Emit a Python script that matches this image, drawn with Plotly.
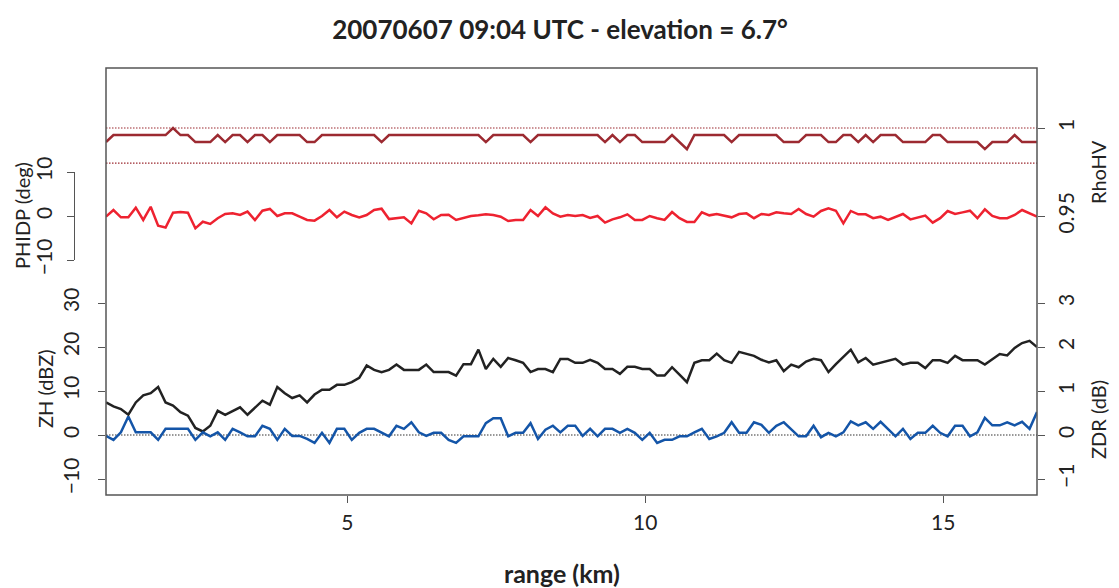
import plotly.graph_objects as go

# ---- data ----
range_start_km = 0.95
gate_km = 0.125

rhohv = [0.992, 0.996, 0.996, 0.996, 0.996, 0.996, 0.996, 0.996, 0.996, 1.000,
         0.996, 0.996, 0.992, 0.992, 0.992, 0.996, 0.992, 0.996, 0.996, 0.992,
         0.996, 0.996, 0.992, 0.996, 0.996, 0.996, 0.996, 0.992, 0.992, 0.996,
         0.996, 0.996, 0.996, 0.996, 0.996, 0.996, 0.996, 0.992, 0.996, 0.996,
         0.996, 0.996, 0.996, 0.996, 0.996, 0.996, 0.996, 0.996, 0.996, 0.996,
         0.996, 0.992, 0.996, 0.996, 0.996, 0.996, 0.996, 0.992, 0.996, 0.996,
         0.996, 0.996, 0.996, 0.996, 0.996, 0.996, 0.996, 0.992, 0.996, 0.992,
         0.996, 0.996, 0.992, 0.992, 0.992, 0.992, 0.996, 0.992, 0.988, 0.996,
         0.996, 0.996, 0.996, 0.996, 0.992, 0.996, 0.996, 0.996, 0.996, 0.996,
         0.996, 0.992, 0.992, 0.992, 0.996, 0.996, 0.996, 0.992, 0.992, 0.996,
         0.996, 0.992, 0.996, 0.992, 0.996, 0.996, 0.996, 0.992, 0.992, 0.992,
         0.992, 0.996, 0.996, 0.992, 0.992, 0.992, 0.992, 0.992, 0.988, 0.992,
         0.992, 0.992, 0.996, 0.992, 0.992, 0.992]

phidp = [-0.15, 1.36, -0.3, -0.3, 1.9, -0.9, 2.1, -2.2, -2.6, 0.76,
         0.9, 0.76, -2.8, -1.3, -1.8, -0.5, 0.45, 0.6, 0.23, 1.0,
         -0.9, 1.2, 1.6, 0.0, 0.6, 0.6, -0.15, -0.9, -1.06, 0.0,
         1.36, -0.3, 1.0, 0.23, -0.3, 0.23, 1.36, 1.67, -0.7, -0.5,
         -0.3, -1.67, 1.2, 0.6, -0.76, 0.23, 0.3, -0.9, -0.5, 0.0,
         0.15, 0.38, 0.23, -0.15, -1.14, -0.9, -0.9, 1.36, 0.0, 1.97,
         0.6, -0.15, 0.23, 0.0, 0.23, -0.45, 0.0, -1.5, -0.76, -0.3,
         0.38, -0.9, -0.9, 0.0, -0.5, -0.9, 0.9, -0.5, -1.36, -1.36,
         0.83, 0.15, 0.45, 0.15, -0.3, 0.45, 0.6, -0.5, 0.45, 0.23,
         0.83, 0.6, 0.45, 1.6, 0.45, -0.15, 1.14, 1.74, 1.2, -1.67,
         1.14, 0.38, 0.38, -0.5, -0.15, -0.9, -0.3, 0.45, -0.76, -0.3,
         0.08, -1.5, -0.5, 1.14, 0.45, 0.83, 1.2, -0.5, 1.5, 0.0,
         -0.5, -0.5, 0.23, 1.36, 0.6, -0.15]

zh = [7.4, 6.5, 5.9, 4.6, 7.4, 9.0, 9.5, 10.9, 7.4, 6.7,
      5.2, 4.4, 1.6, 0.8, 2.1, 5.5, 4.6, 5.4, 6.3, 4.6,
      6.1, 7.8, 6.9, 10.9, 9.5, 8.4, 9.0, 7.4, 9.2, 10.3,
      10.3, 11.4, 11.4, 12.0, 13.0, 15.8, 14.8, 14.3, 14.8, 16.0,
      14.8, 14.8, 14.8, 16.0, 14.3, 14.3, 14.3, 13.5, 16.1, 16.1,
      19.4, 15.0, 17.3, 15.5, 17.5, 17.0, 16.4, 14.3, 15.0, 15.0,
      14.3, 17.3, 17.3, 16.4, 16.4, 17.1, 16.4, 15.0, 15.0, 13.9,
      15.5, 15.5, 15.0, 15.0, 13.5, 13.5, 15.4, 13.7, 12.0, 16.4,
      17.0, 17.0, 18.5, 17.0, 16.4, 18.9, 18.5, 18.0, 17.1, 16.5,
      17.0, 14.5, 16.0, 15.4, 16.7, 17.3, 17.0, 14.3, 16.1, 17.7,
      19.4, 16.5, 17.5, 16.0, 16.4, 16.9, 17.3, 16.0, 16.4, 16.4,
      15.2, 17.0, 17.0, 16.4, 18.0, 17.0, 17.0, 17.0, 16.0, 17.3,
      18.4, 18.1, 19.8, 20.9, 21.4, 20.0]

zdr = [-0.02, -0.11, 0.06, 0.42, 0.06, 0.06, 0.06, -0.11, 0.14, 0.14,
       0.14, 0.14, -0.11, 0.06, -0.03, 0.06, -0.11, 0.14, 0.06, -0.03,
       -0.03, 0.21, 0.14, -0.11, 0.14, -0.02, -0.02, -0.09, -0.18, 0.05,
       -0.18, 0.14, 0.14, -0.11, 0.05, 0.14, 0.14, 0.06, -0.03, 0.21,
       0.14, 0.29, 0.06, -0.02, 0.05, 0.05, -0.11, -0.18, -0.03, -0.03,
       -0.03, 0.27, 0.38, 0.38, -0.03, 0.05, 0.05, 0.27, -0.09, 0.12,
       0.21, 0.06, 0.21, 0.21, -0.02, 0.14, -0.03, 0.14, 0.14, 0.05,
       0.14, 0.05, -0.11, 0.05, -0.18, -0.11, -0.11, -0.03, -0.03, 0.06,
       0.14, -0.09, -0.03, 0.05, 0.29, 0.05, 0.05, 0.29, 0.23, 0.05,
       0.21, 0.29, 0.12, -0.03, -0.03, 0.21, -0.05, 0.05, -0.03, 0.06,
       0.31, 0.22, 0.29, 0.14, 0.30, 0.14, -0.03, 0.14, -0.09, 0.05,
       0.05, 0.21, 0.05, -0.03, 0.21, 0.21, -0.03, 0.06, 0.39, 0.22,
       0.22, 0.29, 0.22, 0.30, 0.14, 0.52]

x_ticks = [5, 10, 15]
zh_ticks = [-10, 0, 10, 20, 30]
zdr_ticks = [-1, 0, 1, 2, 3]
phidp_ticks = [-10, 0, 10]
rhohv_ticks = [0.95, 1]
rhohv_ref = [1.0, 0.98]

range_km = [round(range_start_km + gate_km * i, 4) for i in range(len(zh))]

# ---- layout geometry (page pixels; the page body has an 8px margin) ----
OFF = 8
W, H = 1119 - OFF, 588 - OFF
left_px, right_px, top_px, bot_px = 106, 1037, 68, 495   # plot box on the page
ML = 10
MR = W - (right_px - OFF)
MT = top_px - OFF
MB = H - (bot_px - OFF)
PW, PH = W - ML - MR, H - MT - MB


def px_x(px):
    return (px - OFF - ML) / PW


def px_y(py):
    return (bot_px - py) / PH


pxu = 4.4  # pixels per dBZ / per 0.1 dB / per deg
zh0 = 435
zh_range = [-(bot_px - zh0) / pxu, (zh0 - top_px) / pxu]
zdr_range = [v / 10 for v in zh_range]
rho1, rho95 = 128, 216
rpx = (rho95 - rho1) / 0.05
rho_range = [1 - (bot_px - rho1) / rpx, 1 + (rho1 - top_px) / rpx]
phi0 = 216
phi_dom = [px_y(phi0 + 10 * pxu), px_y(phi0 - 10 * pxu)]

FONT = "Lato"
TC = "#222222"
AX = "#555555"

fig = go.Figure()
fig.add_trace(go.Scatter(x=range_km, y=zh, mode="lines", yaxis="y",
                         line=dict(color="#222222", width=2.5), name="ZH"))
fig.add_trace(go.Scatter(x=range_km, y=zdr, mode="lines", yaxis="y4",
                         line=dict(color="#1455A8", width=2.5), name="ZDR"))
fig.add_trace(go.Scatter(x=range_km, y=phidp, mode="lines", yaxis="y2",
                         line=dict(color="#EE2230", width=2.5), name="PHIDP"))
fig.add_trace(go.Scatter(x=range_km, y=rhohv, mode="lines", yaxis="y3",
                         line=dict(color="#9C2A31", width=2.5), name="RhoHV"))

x0d = px_x(left_px)
shapes = []
dots = "1.5px,1.5px"
for r in rhohv_ref:
    shapes.append(dict(type="line", xref="paper", yref="y3", x0=x0d, x1=1, y0=r, y1=r,
                       line=dict(color="#9C2A31", width=1.2, dash=dots), layer="below"))
shapes.append(dict(type="line", xref="paper", yref="y2", x0=x0d, x1=1, y0=0, y1=0,
                   line=dict(color="#EE2230", width=1.2, dash=dots), layer="below"))
shapes.append(dict(type="line", xref="paper", yref="y", x0=x0d, x1=1, y0=0, y1=0,
                   line=dict(color="#333333", width=1.2, dash=dots), layer="below"))
shapes.append(dict(type="rect", xref="paper", yref="paper", x0=x0d, x1=1, y0=0, y1=1,
                   line=dict(color=AX, width=1.5)))

tickfont = dict(family=FONT, size=21, color=TC)
common = dict(showgrid=False, zeroline=False, showline=False, ticks="outside",
              ticklen=7, tickwidth=1.2, tickcolor=AX, tickfont=tickfont)

annotations = [
    dict(text="PHIDP (deg)", x=px_x(22), y=px_y(216), textangle=-90),
    dict(text="ZH (dBZ)", x=px_x(45), y=px_y(389), textangle=-90),
    dict(text="RhoHV", x=px_x(1098), y=px_y(172), textangle=-90),
    dict(text="ZDR (dB)", x=px_x(1098), y=px_y(420), textangle=-90),
    dict(text="<b>range (km)</b>", x=px_x(562), y=px_y(573), textangle=0,
         font=dict(family=FONT, size=25, color=TC)),
]
for a in annotations:
    a.update(xref="paper", yref="paper", showarrow=False, xanchor="center",
             yanchor="middle", borderpad=0)
    a.setdefault("font", dict(family=FONT, size=20, color=TC))

fig.update_layout(
    width=W, height=H,
    margin=dict(l=ML, r=MR, t=MT, b=MB),
    paper_bgcolor="white", plot_bgcolor="white",
    showlegend=False,
    title=dict(text="<b>20070607 09:04 UTC - elevation = 6.7°</b>",
               x=(560 - OFF) / W, xref="container", y=1 - (30 - OFF) / H, yref="container",
               xanchor="center", yanchor="middle",
               font=dict(family=FONT, size=26, color=TC)),
    xaxis=dict(domain=[x0d, 1], range=[range_km[0], range_km[-1]],
               tickvals=x_ticks, anchor="y", ticklabelstandoff=2, **common),
    yaxis=dict(range=zh_range, tickvals=zh_ticks, tickangle=-90, side="left",
               anchor="x", ticklabelstandoff=11, **common),
    yaxis2=dict(domain=phi_dom, range=[-10, 10], tickvals=phidp_ticks, tickangle=-90,
                anchor="free", position=px_x(74), side="left", ticklabelstandoff=7,
                showgrid=False, zeroline=False, showline=True, linecolor=AX, linewidth=1.2,
                ticks="outside", ticklen=7, tickwidth=1.2, tickcolor=AX, tickfont=tickfont),
    yaxis3=dict(range=rho_range, tickvals=rhohv_ticks, ticktext=["0.95", "1"],
                tickangle=-90, side="right", overlaying="y", anchor="x",
                ticklabelstandoff=4, **common),
    yaxis4=dict(range=zdr_range, tickvals=zdr_ticks, tickangle=-90, side="right",
                overlaying="y", anchor="x", ticklabelstandoff=4, **common),
    shapes=shapes,
    annotations=annotations,
)

fig.write_html("out.html")
